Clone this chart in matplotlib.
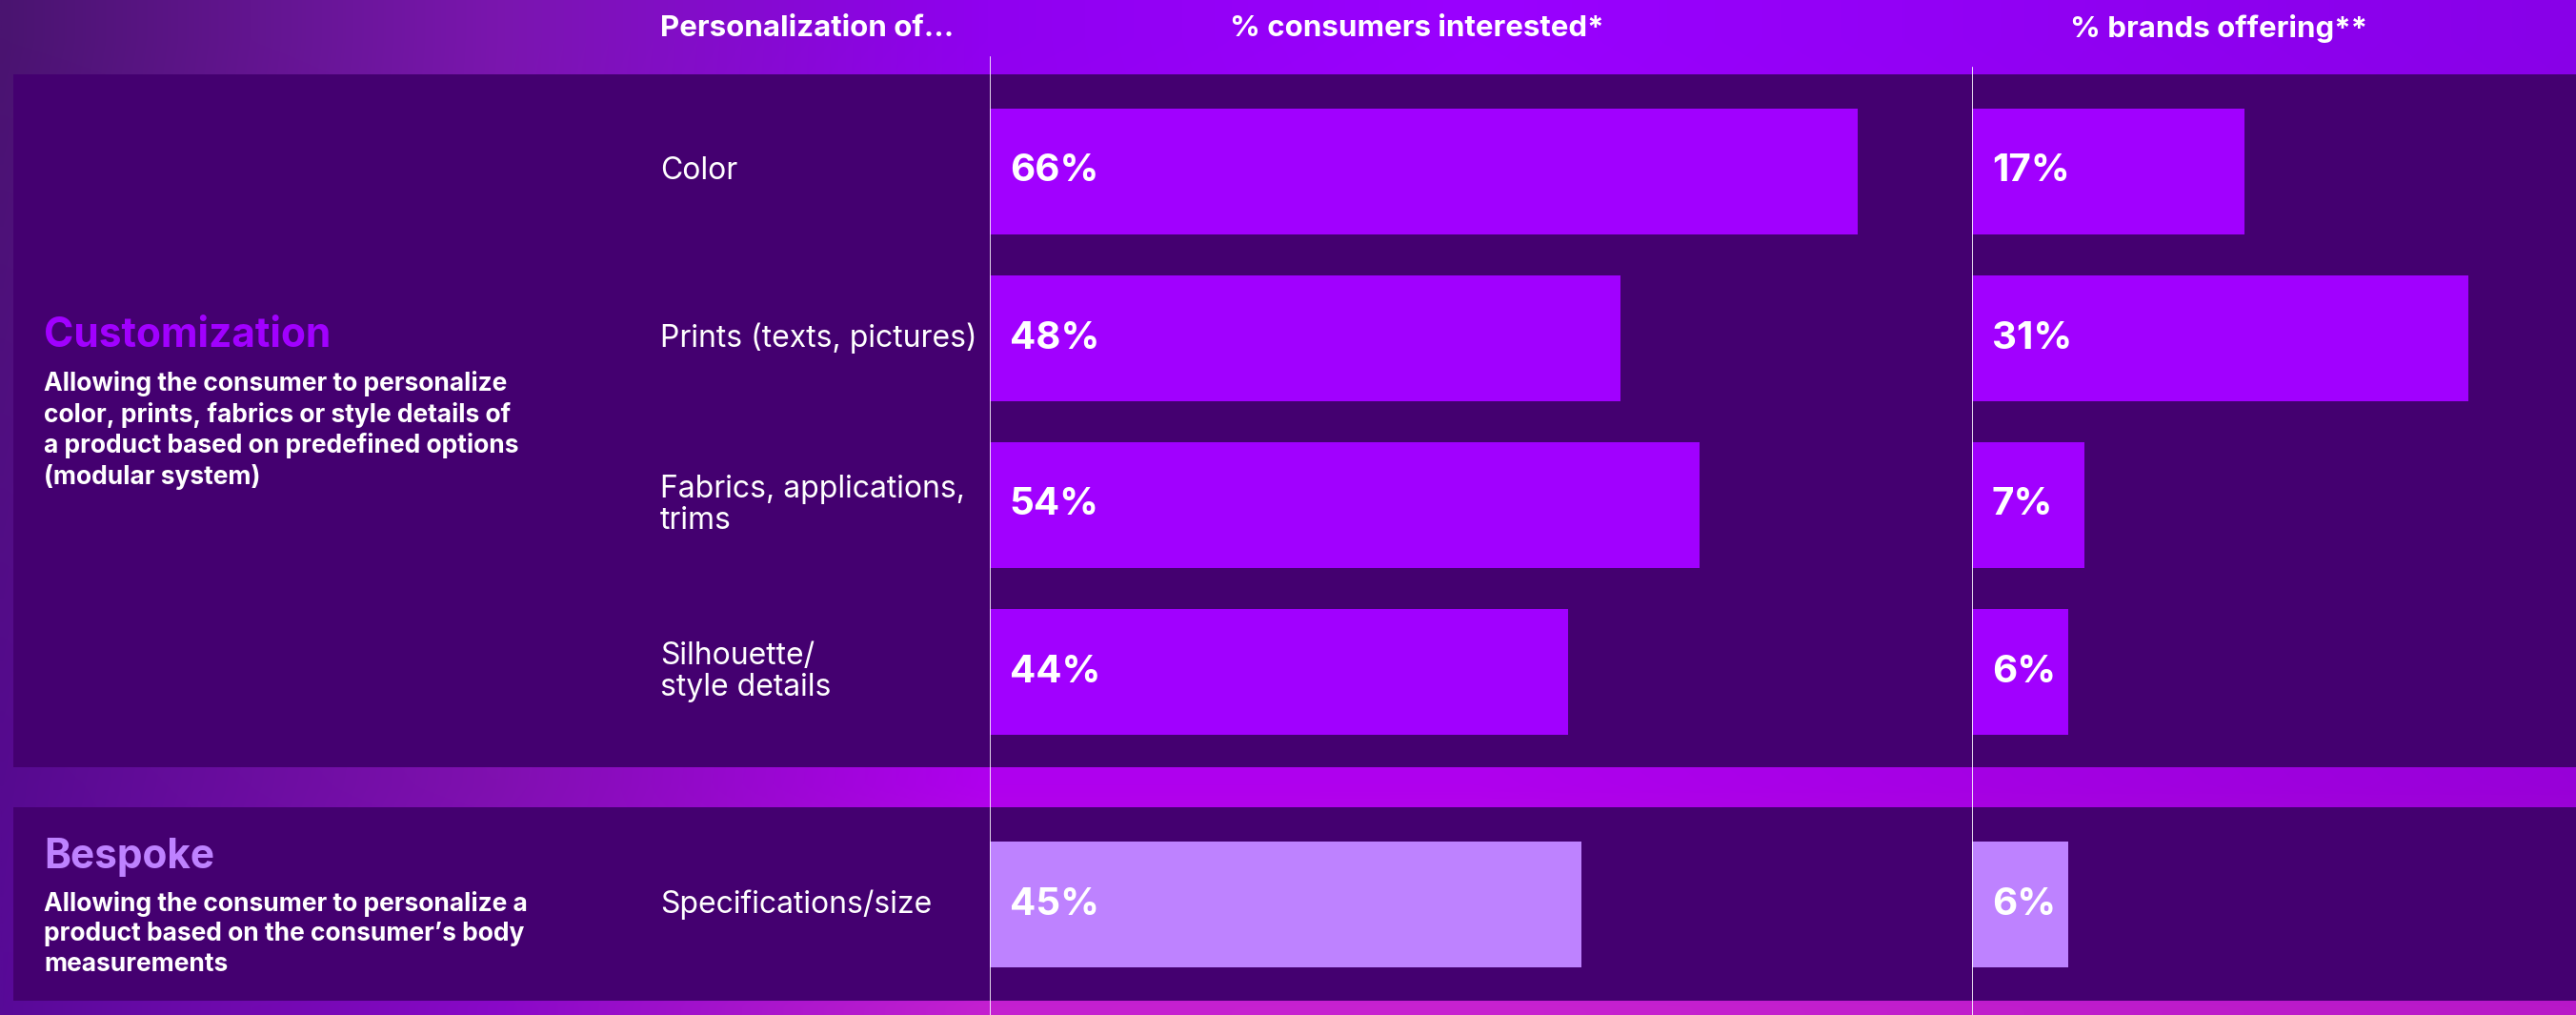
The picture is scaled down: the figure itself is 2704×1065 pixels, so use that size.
import numpy as np
import matplotlib
matplotlib.use("Agg")
import matplotlib.pyplot as plt
from matplotlib.patches import Rectangle
from matplotlib.colors import to_rgb

plt.rcParams['font.family'] = ['Inter', 'DejaVu Sans']

# data
categories = ["Color", "Prints (texts, pictures)", "Fabrics, applications,\ntrims",
              "Silhouette/\nstyle details", "Specifications/size"]
groups = ["Customization", "Customization", "Customization", "Customization", "Bespoke"]
consumers = [66, 48, 54, 44, 45]
brands = [17, 31, 7, 6, 6]
group_titles = ["Customization", "Bespoke"]
group_desc = ["Allowing the consumer to personalize\ncolor, prints, fabrics or style details of\n"
              "a product based on predefined options\n(modular system)",
              "Allowing the consumer to personalize a\nproduct based on the consumer\u2019s body\n"
              "measurements"]
headers = ["Personalization of...", "% consumers interested*", "% brands offering**"]

W, H = 2704, 1065
DARK = "#440070"
PURPLE = "#A100FF"
LILAC = "#BE82FF"

fig = plt.figure(figsize=(W / 100, H / 100), dpi=100)

# background in pixel coordinates
bg = fig.add_axes([0, 0, 1, 1])
bg.set_xlim(0, W)
bg.set_ylim(H, 0)
bg.axis("off")

# background gradient: anchor colours along x for three heights
gx = [0, 520, 1035, 1550, W]
gy = [40, 826, 1060]
anchors = [["#4A1470", "#7A16AE", "#9000F0", "#9A00FF", "#8800E8"],
           ["#560A90", "#8010B0", "#B000EE", "#B000EE", "#9800D8"],
           ["#580A98", "#8A08C8", "#C420D0", "#C822D0", "#B818C8"]]
anc = np.array([[to_rgb(c) for c in row] for row in anchors])
xs = np.linspace(0, W, 400)
ys = np.linspace(0, H, 200)
rows = np.stack([np.stack([np.interp(xs, gx, anc[r, :, ch]) for ch in range(3)], -1)
                 for r in range(3)])
img = np.stack([np.stack([np.interp(ys, gy, rows[:, i, ch]) for ch in range(3)], -1)
                for i in range(len(xs))], 1)
bg.imshow(img, extent=(0, W, H, 0), interpolation="bilinear", aspect="auto", zorder=0)

# layout of rows (pixel centres)
row_step, bar_h = 175, 132
ypos = []
y = 180
for i, g in enumerate(groups):
    if i > 0 and g != groups[i - 1]:
        y += 69
    ypos.append(y)
    y += row_step
ypos = np.array(ypos)

# group panels
panels = {"Customization": (78, 805), "Bespoke": (847, 1050)}
for g, (top, bot) in panels.items():
    bg.add_patch(Rectangle((14, top), W - 14, bot - top, color=DARK, zorder=1, lw=0))

# header texts
bg.text(693, 30, headers[0], color="white", fontsize=22.5, fontweight="bold", va="center", zorder=5)
bg.text(1487, 30, headers[1], color="white", fontsize=22.5, fontweight="bold", va="center", ha="center", zorder=5)
bg.text(2329, 30, headers[2], color="white", fontsize=22.5, fontweight="bold", va="center", ha="center", zorder=5)

# category labels
for lab, yy in zip(categories, ypos):
    bg.text(693, yy, lab, color="white", fontsize=23, va="center", linespacing=1.12, zorder=5)

# group titles and descriptions
title_cols = [PURPLE, LILAC]
title_y = [353, 899]
for t, d, c, ty in zip(group_titles, group_desc, title_cols, title_y):
    bg.text(46, ty, t, color=c, fontsize=30.5, fontweight="bold", va="center", zorder=5)
    bg.text(46, ty + 36, d, color="white", fontsize=19, fontweight="bold", va="top",
            linespacing=1.27, zorder=5)

bar_cols = [PURPLE if g == "Customization" else LILAC for g in groups]


def bar_panel(x0, x1, px_per_pct, values, line_top):
    ax = fig.add_axes([x0 / W, 0, (x1 - x0) / W, 1])
    ax.set_xlim(0, (x1 - x0) / px_per_pct)
    ax.set_ylim(H, 0)
    ax.axis("off")
    ax.patch.set_alpha(0)
    ax.barh(ypos, values, height=bar_h, color=bar_cols, zorder=3)
    ax.axvline(0, ymin=0, ymax=1 - line_top / H, color="white", lw=1.2, zorder=4)
    for v, yy in zip(values, ypos):
        ax.annotate(f"{v}%", (0, yy), xytext=(15, 0), textcoords="offset points",
                    color="white", fontsize=29, fontweight="bold", va="center", zorder=5)
    return ax


bar_panel(1039, 2070, 13.8, consumers, 60)
bar_panel(2070, W, 16.8, brands, 71)

fig.savefig("out.png", dpi=100)
